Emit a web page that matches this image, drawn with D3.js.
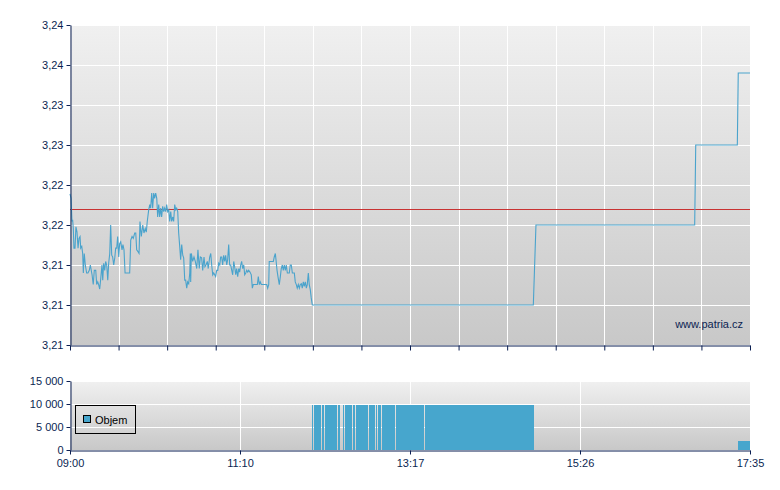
<!DOCTYPE html>
<html>
<head>
<meta charset="utf-8">
<script src="https://cdn.jsdelivr.net/npm/d3@7"></script>
<style>
  html, body { margin: 0; padding: 0; background: #ffffff; }
  svg { display: block; }
  text { font-family: Arial, "Liberation Sans", sans-serif; }
</style>
</head>
<body>
<svg id="chart" width="780" height="490"></svg>
<script>
// ---- DATA ----
// time in minutes after 09:00, price in CZK
const priceTimes = [0.0,0.8,1.5,2.0,2.5,3.0,3.8,4.5,5.3,6.1,6.8,7.6,8.1,8.9,9.6,10.1,10.8,11.6,12.6,13.6,14.6,15.4,16.1,16.7,17.6,18.4,19.5,20.2,21.0,21.7,22.5,23.3,24.2,24.8,25.5,26.3,27.0,27.8,28.6,29.3,30.1,30.8,31.6,32.3,33.1,33.9,34.6,35.4,36.1,36.9,37.6,38.4,39.4,40.1,40.9,41.7,45.2,46.0,47.0,47.9,49.0,49.8,50.5,51.5,52.3,53.0,54.0,55.1,56.0,57.0,57.8,58.5,59.6,60.4,61.1,61.9,62.6,63.4,64.1,64.9,65.7,66.4,67.2,67.9,68.7,69.4,70.2,71.0,71.7,72.5,73.2,74.0,74.8,75.5,76.3,77.0,77.8,78.5,79.3,80.1,80.8,81.6,82.3,83.1,83.8,84.6,85.4,86.1,86.9,87.6,88.4,89.1,89.9,90.7,91.1,91.4,91.9,92.9,93.9,94.9,96.0,96.9,97.9,98.7,99.7,100.5,101.5,102.2,103.0,104.0,104.7,105.8,106.6,107.3,108.1,108.8,109.6,110.3,111.1,111.9,112.6,113.4,114.1,114.9,115.6,116.4,117.2,117.9,118.7,119.4,120.2,120.9,121.7,122.5,123.2,124.0,124.7,125.5,126.2,127.0,127.8,128.5,129.3,130.0,130.8,131.6,132.3,133.1,133.8,134.6,135.3,136.3,137.3,138.1,138.8,141.9,142.6,143.4,144.1,144.9,149.0,149.7,150.5,150.9,154.0,154.7,155.5,156.0,156.8,157.5,158.5,159.3,160.0,160.8,161.5,162.3,163.1,163.8,164.6,166.1,166.8,167.6,168.4,169.9,170.6,171.4,172.1,172.9,173.7,174.4,175.2,175.9,176.7,177.4,178.2,179.0,179.7,180.5,181.2,182.0,182.7,183.5,350.9,352.9,473.1,473.9,505.4,506.1,515.0];
const priceValues = [3.2225,3.2220,3.2194,3.2196,3.2186,3.2164,3.2164,3.2188,3.2182,3.2164,3.2175,3.2177,3.2164,3.2166,3.2158,3.2136,3.2158,3.2145,3.2136,3.2136,3.2139,3.2145,3.2139,3.2134,3.2123,3.2139,3.2139,3.2123,3.2126,3.2123,3.2118,3.2130,3.2145,3.2128,3.2147,3.2139,3.2149,3.2145,3.2128,3.2147,3.2158,3.2190,3.2156,3.2154,3.2145,3.2153,3.2164,3.2164,3.2177,3.2154,3.2169,3.2171,3.2162,3.2168,3.2162,3.2136,3.2136,3.2173,3.2177,3.2175,3.2181,3.2181,3.2162,3.2160,3.2158,3.2194,3.2177,3.2190,3.2181,3.2186,3.2182,3.2194,3.2207,3.2213,3.2209,3.2226,3.2209,3.2226,3.2220,3.2226,3.2220,3.2199,3.2213,3.2199,3.2209,3.2199,3.2211,3.2205,3.2209,3.2205,3.2213,3.2205,3.2207,3.2194,3.2205,3.2194,3.2199,3.2194,3.2213,3.2207,3.2209,3.2205,3.2181,3.2166,3.2151,3.2168,3.2156,3.2153,3.2128,3.2128,3.2119,3.2126,3.2124,3.2136,3.2158,3.2126,3.2158,3.2149,3.2154,3.2149,3.2141,3.2162,3.2141,3.2154,3.2153,3.2139,3.2154,3.2143,3.2145,3.2149,3.2141,3.2154,3.2158,3.2145,3.2134,3.2136,3.2134,3.2132,3.2139,3.2139,3.2147,3.2145,3.2154,3.2154,3.2145,3.2156,3.2149,3.2156,3.2145,3.2151,3.2168,3.2145,3.2145,3.2139,3.2134,3.2149,3.2143,3.2134,3.2141,3.2132,3.2141,3.2137,3.2145,3.2149,3.2141,3.2145,3.2134,3.2136,3.2139,3.2137,3.2139,3.2137,3.2134,3.2119,3.2123,3.2123,3.2132,3.2123,3.2126,3.2123,3.2123,3.2119,3.2123,3.2149,3.2149,3.2154,3.2158,3.2151,3.2139,3.2132,3.2123,3.2132,3.2141,3.2145,3.2139,3.2145,3.2139,3.2145,3.2136,3.2136,3.2145,3.2145,3.2136,3.2136,3.2126,3.2123,3.2119,3.2123,3.2119,3.2123,3.2124,3.2119,3.2126,3.2121,3.2126,3.2119,3.2123,3.2136,3.2123,3.2117,3.2108,3.2100,3.2100,3.2190,3.2190,3.2280,3.2280,3.2361,3.2361];
const referencePrice = 3.2208;

// volume blocks: start minute, end minute, volume
const volStarts = [183.0,184.8,191.1,193.1,203.2,206.8,208.5,214.3,216.8,226.4,231.5,233.5,236.3,246.9,268.8,505.9];
const volEnds   = [183.8,190.3,192.4,202.2,204.7,207.7,213.6,215.8,225.7,230.8,232.7,235.5,246.1,268.1,351.4,515.0];
const volValues = [9800,9800,9800,9800,9800,9800,9800,9800,9800,9800,9800,9800,9800,9800,9800,2000];

const priceTicks = [3.2055,3.2100,3.2145,3.2190,3.2235,3.2280,3.2325,3.2370,3.2415];
const priceTickLabels = ["3,21","3,21","3,21","3,22","3,22","3,23","3,23","3,24","3,24"];
const gridTimes = [0,36.79,73.57,110.36,147.14,183.93,220.71,257.5,294.29,331.07,367.86,404.64,441.43,478.21,515];
const timeTicks = [0,128.75,257.5,386.25,515];
const timeTickLabels = ["09:00","11:10","13:17","15:26","17:35"];
const volTicks = [0,5000,10000,15000];
const volTickLabels = ["0","5 000","10 000","15 000"];
const legendLabel = "Objem";
const watermark = "www.patria.cz";

// ---- STYLE ----
const navy = "#0b1f52";
const lineBlue = "#4aa3cc";
const barBlue = "#47a6cd";

const svg = d3.select("#chart");
const defs = svg.append("defs");
const grad = defs.append("linearGradient").attr("id","bg").attr("x1",0).attr("y1",0).attr("x2",0).attr("y2",1);
grad.append("stop").attr("offset","0%").attr("stop-color","#f0f0f0");
grad.append("stop").attr("offset","100%").attr("stop-color","#c8c8c8");

const x = d3.scaleLinear().domain([0,515]).range([70,750]);
const y = d3.scaleLinear().domain([3.2055,3.2415]).range([345,25]);
const yv = d3.scaleLinear().domain([0,15000]).range([450,381]);

// ---- TOP PANEL ----
const topG = svg.append("g");
topG.append("rect").attr("x",x(0)).attr("y",y(3.2415)).attr("width",x(515)-x(0)).attr("height",y(3.2055)-y(3.2415)).attr("fill","url(#bg)");
topG.append("g").selectAll("line").data(priceTicks).join("line")
  .attr("x1",x(0)).attr("x2",x(515)).attr("y1",d=>Math.round(y(d))+0.5).attr("y2",d=>Math.round(y(d))+0.5)
  .attr("stroke","#ffffff").attr("stroke-width",1);
topG.append("g").selectAll("line").data(gridTimes.slice(1,-1)).join("line")
  .attr("x1",d=>Math.round(x(d))+0.5).attr("x2",d=>Math.round(x(d))+0.5).attr("y1",y(3.2415)).attr("y2",y(3.2055))
  .attr("stroke","#ffffff").attr("stroke-width",1);

topG.append("line").attr("x1",x(0)).attr("x2",x(515))
  .attr("y1",Math.round(y(referencePrice))+0.5).attr("y2",Math.round(y(referencePrice))+0.5)
  .attr("stroke","#c83232").attr("stroke-width",1);

const pts = priceTimes.map((t,i)=>[t,priceValues[i]]);
topG.append("path").datum(pts)
  .attr("d", d3.line().x(d=>x(d[0])).y(d=>y(d[1])))
  .attr("fill","none").attr("stroke",lineBlue).attr("stroke-width",1.1);

topG.append("text").attr("x",743).attr("y",328).attr("text-anchor","end")
  .attr("font-size","11px").attr("fill",navy).text(watermark);

function styleAxis(g){
  g.selectAll("path.domain").attr("stroke",navy);
  g.selectAll(".tick line").attr("stroke",navy);
  g.selectAll(".tick text").attr("fill",navy).attr("font-size","11px").attr("font-family","Arial, 'Liberation Sans', sans-serif");
}

const yAx = topG.append("g").attr("transform","translate(70.5,0)")
  .call(d3.axisLeft(y).tickValues(priceTicks).tickFormat((d,i)=>priceTickLabels[i]).tickSize(4).tickSizeOuter(0).tickPadding(3));
styleAxis(yAx);
const xAxTop = topG.append("g").attr("transform","translate(0,345.5)")
  .call(d3.axisBottom(x).tickValues(gridTimes).tickFormat("").tickSize(5).tickSizeOuter(0));
styleAxis(xAxTop);

// ---- BOTTOM PANEL ----
const botG = svg.append("g");
botG.append("rect").attr("x",x(0)).attr("y",yv(15000)).attr("width",x(515)-x(0)).attr("height",yv(0)-yv(15000)).attr("fill","url(#bg)");
botG.append("g").selectAll("line").data(volTicks.slice(1)).join("line")
  .attr("x1",x(0)).attr("x2",x(515)).attr("y1",d=>Math.round(yv(d))+0.5).attr("y2",d=>Math.round(yv(d))+0.5)
  .attr("stroke","#ffffff").attr("stroke-width",1);
botG.append("g").selectAll("line").data(timeTicks.slice(1,-1)).join("line")
  .attr("x1",d=>Math.round(x(d))+0.5).attr("x2",d=>Math.round(x(d))+0.5).attr("y1",yv(15000)).attr("y2",yv(0))
  .attr("stroke","#ffffff").attr("stroke-width",1);

const bars = volStarts.map((s,i)=>({s, e: volEnds[i], v: volValues[i]}));
botG.append("g").selectAll("rect").data(bars).join("rect")
  .attr("x",d=>x(d.s)).attr("width",d=>x(d.e)-x(d.s))
  .attr("y",d=>yv(d.v)).attr("height",d=>yv(0)-yv(d.v))
  .attr("fill",barBlue).attr("shape-rendering","crispEdges");

// legend
const leg = botG.append("g");
leg.append("rect").attr("x",75.5).attr("y",405.5).attr("width",60).attr("height",28)
  .attr("fill","none").attr("stroke","#000000").attr("stroke-width",1);
leg.append("rect").attr("x",83.5).attr("y",415.5).attr("width",7).attr("height",7)
  .attr("fill",barBlue).attr("stroke","#000000").attr("stroke-width",1);
leg.append("text").attr("x",95).attr("y",424).attr("font-size","11px").attr("fill","#000000").text(legendLabel);

const yvAx = botG.append("g").attr("transform","translate(70.5,0)")
  .call(d3.axisLeft(yv).tickValues(volTicks).tickFormat((d,i)=>volTickLabels[i]).tickSize(4).tickSizeOuter(0).tickPadding(3));
styleAxis(yvAx);
const xAxBot = botG.append("g").attr("transform","translate(0,450.5)")
  .call(d3.axisBottom(x).tickValues(timeTicks).tickFormat((d,i)=>timeTickLabels[i]).tickSize(4).tickSizeOuter(0).tickPadding(5));
styleAxis(xAxBot);
</script>
</body>
</html>
